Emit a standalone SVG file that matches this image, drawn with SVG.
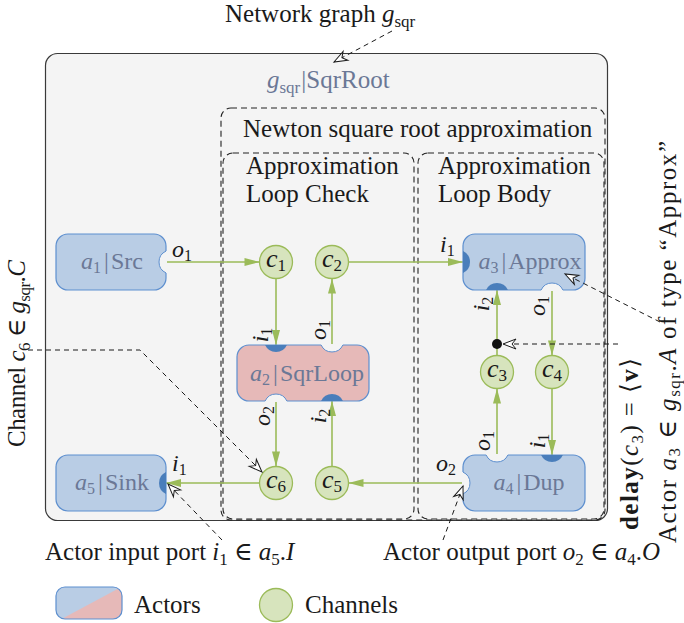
<svg xmlns="http://www.w3.org/2000/svg" width="684" height="623" viewBox="0 0 684 623">
  <defs>
    <style>
      text { font-family: "Liberation Serif", "DejaVu Serif", serif; fill: #1a1a1a; }
      .big { font-size: 25px; }
      .it { font-style: italic; }
      .bf { font-weight: bold; }
      .title { font-size: 25px; fill: #6b7896; }
      .node-label { font-size: 24px; fill: #6b7896; }
      .port-label { font-size: 24px; }
      .chan-label { font-size: 26px; }
      .graph-box { fill: #f4f4f4; stroke: #3a3a3a; stroke-width: 1.2; }
      .region { fill: none; stroke: #222; stroke-width: 1.1; stroke-dasharray: 6 4; }
      .actor { fill: #b9cde5; stroke: #5d8fcf; stroke-width: 1.2; }
      .actor.loop { fill: #e6b9b8; }
      .channel { fill: #d7e4bd; stroke: #9bbb59; stroke-width: 1.3; }
      .in-port { fill: #4a7ebb; }
      .out-port-fill { fill: #f4f4f4; }
      .out-port { fill: none; stroke: #5d8fcf; stroke-width: 1; }
      .edge { fill: none; stroke: #9bbb59; stroke-width: 1.6; marker-end: url(#arrowGreen); }
      .anno { fill: none; stroke: #1a1a1a; stroke-width: 1; stroke-dasharray: 5 4; }
      .anno-arrow { marker-end: url(#arrowOpen); }
    </style>
    <marker id="arrowGreen" markerUnits="userSpaceOnUse" markerWidth="16" markerHeight="10" refX="15" refY="5" orient="auto" overflow="visible">
      <path d="M0,1 L15,5 L0,9 Z" fill="#9bbb59"/>
    </marker>
    <marker id="arrowOpen" markerUnits="userSpaceOnUse" markerWidth="16" markerHeight="12" refX="14" refY="6" orient="auto" overflow="visible">
      <path d="M1,1 L14,6 L1,11 L5,6 Z" fill="#fff" stroke="#1a1a1a" stroke-width="1"/>
    </marker>
    <clipPath id="legendActorClip">
      <rect x="56" y="587" width="66" height="32" rx="9"/>
    </clipPath>
  </defs>

  <!-- network graph and its nested regions -->
  <g id="graph-sqrroot">
    <rect class="graph-box" x="45.5" y="53.5" width="562" height="467" rx="12"/>
    <text class="title" x="267" y="88"><tspan class="it">g</tspan><tspan font-size="17" dy="5">sqr</tspan><tspan dy="-5" dx="1">|SqrRoot</tspan></text>
  </g>
  <g id="region-newton">
    <rect class="region" x="221" y="108" width="384" height="412" rx="10"/>
    <text class="big" x="243" y="137">Newton square root approximation</text>
  </g>
  <g id="region-loop-check">
    <rect class="region" x="223" y="153" width="191" height="366" rx="10"/>
    <text class="big" x="246" y="174">Approximation</text>
    <text class="big" x="246" y="202">Loop Check</text>
  </g>
  <g id="region-loop-body">
    <rect class="region" x="418" y="153" width="186" height="366" rx="10"/>
    <text class="big" x="438" y="174">Approximation</text>
    <text class="big" x="438" y="202">Loop Body</text>
  </g>

  <!-- connectors -->
  <g id="connectors">
    <path class="edge" d="M166,262 L259.5,262"/>
    <path class="edge" d="M276,278.5 L276,345"/>
    <path class="edge" d="M332,345 L332,278.5"/>
    <path class="edge" d="M348.5,262 L463,262"/>
    <path class="edge" d="M552,290 L552,355.5"/>
    <path class="edge" d="M497,355.5 L497,290"/>
    <path class="edge" d="M552,388.5 L552,455"/>
    <path class="edge" d="M497,455 L497,388.5"/>
    <path class="edge" d="M463,483 L348.5,483"/>
    <path class="edge" d="M332,466.5 L332,401"/>
    <path class="edge" d="M276,401 L276,466.5"/>
    <path class="edge" d="M259.5,483 L166,483"/>
  </g>

  <!-- actors -->
  <g id="a1">
    <rect class="actor" x="56" y="234" width="110" height="56" rx="12"/>
    <path class="out-port-fill" d="M166,251.1 A12,12 0 0 0 166,272.9 L167,272.9 L167,251.1 Z"/>
    <path class="out-port" d="M166,251.1 A12,12 0 0 0 166,272.9"/>
    <text class="node-label" x="112" y="269" text-anchor="middle"><tspan class="it">a</tspan><tspan font-size="16" dy="4">1</tspan><tspan dy="-4" dx="3">|</tspan><tspan dx="2">Src</tspan></text>
  </g>
  <g id="a2">
    <rect class="actor loop" x="237" y="345" width="132" height="56" rx="12"/>
    <path class="in-port" d="M265.1,345 A12,12 0 0 0 286.9,345 Z"/>
    <path class="out-port-fill" d="M321.1,345 A12,12 0 0 0 342.9,345 L342.9,344 L321.1,344 Z"/>
    <path class="out-port" d="M321.1,345 A12,12 0 0 0 342.9,345"/>
    <path class="out-port-fill" d="M265.1,401 A12,12 0 0 1 286.9,401 L286.9,402 L265.1,402 Z"/>
    <path class="out-port" d="M265.1,401 A12,12 0 0 1 286.9,401"/>
    <path class="in-port" d="M321.1,401 A12,12 0 0 1 342.9,401 Z"/>
    <text class="node-label" x="307" y="381" text-anchor="middle"><tspan class="it">a</tspan><tspan font-size="16" dy="4">2</tspan><tspan dy="-4" dx="3">|</tspan><tspan dx="2">SqrLoop</tspan></text>
  </g>
  <g id="a3">
    <rect class="actor" x="463" y="234" width="122" height="56" rx="12"/>
    <path class="in-port" d="M463,251.1 A12,12 0 0 1 463,272.9 Z"/>
    <path class="in-port" d="M486.1,290 A12,12 0 0 1 507.9,290 Z"/>
    <path class="out-port-fill" d="M541.1,290 A12,12 0 0 1 562.9,290 L562.9,291 L541.1,291 Z"/>
    <path class="out-port" d="M541.1,290 A12,12 0 0 1 562.9,290"/>
    <text class="node-label" x="530" y="269" text-anchor="middle"><tspan class="it">a</tspan><tspan font-size="16" dy="4">3</tspan><tspan dy="-4" dx="3">|</tspan><tspan dx="2">Approx</tspan></text>
  </g>
  <g id="a4">
    <rect class="actor" x="463" y="455" width="122" height="56" rx="12"/>
    <path class="out-port-fill" d="M486.1,455 A12,12 0 0 0 507.9,455 L507.9,454 L486.1,454 Z"/>
    <path class="out-port" d="M486.1,455 A12,12 0 0 0 507.9,455"/>
    <path class="in-port" d="M541.1,455 A12,12 0 0 0 562.9,455 Z"/>
    <path class="out-port-fill" d="M463,472.1 A12,12 0 0 1 463,493.9 L462,493.9 L462,472.1 Z"/>
    <path class="out-port" d="M463,472.1 A12,12 0 0 1 463,493.9"/>
    <text class="node-label" x="529" y="490" text-anchor="middle"><tspan class="it">a</tspan><tspan font-size="16" dy="4">4</tspan><tspan dy="-4" dx="3">|</tspan><tspan dx="2">Dup</tspan></text>
  </g>
  <g id="a5">
    <rect class="actor" x="56" y="455" width="110" height="56" rx="12"/>
    <path class="in-port" d="M166,472.1 A12,12 0 0 0 166,493.9 Z"/>
    <text class="node-label" x="112" y="490" text-anchor="middle"><tspan class="it">a</tspan><tspan font-size="16" dy="4">5</tspan><tspan dy="-4" dx="3">|</tspan><tspan dx="2">Sink</tspan></text>
  </g>

  <!-- channels -->
  <g id="c1"><circle class="channel" cx="276" cy="262" r="16.5"/><text class="chan-label" x="276" y="267" text-anchor="middle"><tspan class="it">c</tspan><tspan font-size="17" dy="4">1</tspan></text></g>
  <g id="c2"><circle class="channel" cx="332" cy="262" r="16.5"/><text class="chan-label" x="332" y="267" text-anchor="middle"><tspan class="it">c</tspan><tspan font-size="17" dy="4">2</tspan></text></g>
  <g id="c3"><circle class="channel" cx="497" cy="372" r="16.5"/><text class="chan-label" x="497" y="377" text-anchor="middle"><tspan class="it">c</tspan><tspan font-size="17" dy="4">3</tspan></text></g>
  <g id="c4"><circle class="channel" cx="552" cy="372" r="16.5"/><text class="chan-label" x="552" y="377" text-anchor="middle"><tspan class="it">c</tspan><tspan font-size="17" dy="4">4</tspan></text></g>
  <g id="c5"><circle class="channel" cx="332" cy="483" r="16.5"/><text class="chan-label" x="332" y="488" text-anchor="middle"><tspan class="it">c</tspan><tspan font-size="17" dy="4">5</tspan></text></g>
  <g id="c6"><circle class="channel" cx="276" cy="483" r="16.5"/><text class="chan-label" x="276" y="488" text-anchor="middle"><tspan class="it">c</tspan><tspan font-size="17" dy="4">6</tspan></text></g>

  <!-- port labels -->
  <g id="port-labels" class="port-label">
    <text x="172" y="257"><tspan class="it">o</tspan><tspan font-size="16" dy="4">1</tspan></text>
    <text x="172" y="471"><tspan class="it">i</tspan><tspan font-size="16" dy="4">1</tspan></text>
    <text x="440" y="252"><tspan class="it">i</tspan><tspan font-size="16" dy="4">1</tspan></text>
    <text x="436" y="471"><tspan class="it">o</tspan><tspan font-size="16" dy="4">2</tspan></text>
    <text transform="translate(268,335) rotate(-90)" text-anchor="middle"><tspan class="it">i</tspan><tspan font-size="16" dy="4">1</tspan></text>
    <text transform="translate(326,330) rotate(-90)" text-anchor="middle"><tspan class="it">o</tspan><tspan font-size="16" dy="4">1</tspan></text>
    <text transform="translate(270,416) rotate(-90)" text-anchor="middle"><tspan class="it">o</tspan><tspan font-size="16" dy="4">2</tspan></text>
    <text transform="translate(326,416) rotate(-90)" text-anchor="middle"><tspan class="it">i</tspan><tspan font-size="16" dy="4">2</tspan></text>
    <text transform="translate(489,304) rotate(-90)" text-anchor="middle"><tspan class="it">i</tspan><tspan font-size="16" dy="4">2</tspan></text>
    <text transform="translate(545,306) rotate(-90)" text-anchor="middle"><tspan class="it">o</tspan><tspan font-size="16" dy="4">1</tspan></text>
    <text transform="translate(490,441) rotate(-90)" text-anchor="middle"><tspan class="it">o</tspan><tspan font-size="16" dy="4">1</tspan></text>
    <text transform="translate(545,441) rotate(-90)" text-anchor="middle"><tspan class="it">i</tspan><tspan font-size="16" dy="4">1</tspan></text>
  </g>

  <!-- annotations -->
  <g id="annotations">
    <path class="anno anno-arrow" d="M392,31 L334,62"/>
    <path class="anno anno-arrow" d="M28,350 L140,350 L262,472"/>
    <path class="anno anno-arrow" d="M222,540 L168,484"/>
    <path class="anno anno-arrow" d="M443,540 L463,486"/>
    <path class="anno anno-arrow" d="M618,344 L503,344"/>
    <path class="anno anno-arrow" d="M660,322 L565,274"/>
    <circle cx="497" cy="344" r="5" fill="#111"/>

    <text class="big" x="225" y="22">Network graph <tspan class="it">g</tspan><tspan font-size="17" dy="5">sqr</tspan></text>
    <text class="big" transform="translate(25,447) rotate(-90)" textLength="187" lengthAdjust="spacing">Channel <tspan class="it">c</tspan><tspan font-size="17" dy="5">6</tspan><tspan dy="-5"> ∈ </tspan><tspan class="it">g</tspan><tspan font-size="17" dy="5">sqr</tspan><tspan dy="-5">.</tspan><tspan class="it">C</tspan></text>
    <text class="big" x="45" y="560">Actor input port <tspan class="it">i</tspan><tspan font-size="17" dy="5">1</tspan><tspan dy="-5"> ∈ </tspan><tspan class="it">a</tspan><tspan font-size="17" dy="5">5</tspan><tspan dy="-5">.</tspan><tspan class="it">I</tspan></text>
    <text class="big" x="383" y="560">Actor output port <tspan class="it">o</tspan><tspan font-size="17" dy="5">2</tspan><tspan dy="-5"> ∈ </tspan><tspan class="it">a</tspan><tspan font-size="17" dy="5">4</tspan><tspan dy="-5">.</tspan><tspan class="it">O</tspan></text>
    <text class="big" transform="translate(638,530) rotate(-90)" textLength="172" lengthAdjust="spacing"><tspan class="bf">delay</tspan>(<tspan class="it">c</tspan><tspan font-size="17" dy="5">3</tspan><tspan dy="-5">) = ⟨</tspan><tspan class="bf">v</tspan>⟩</text>
    <text class="big" transform="translate(676,543) rotate(-90)" textLength="402" lengthAdjust="spacing">Actor <tspan class="it">a</tspan><tspan font-size="17" dy="4">3</tspan><tspan dy="-4"> ∈ </tspan><tspan class="it">g</tspan><tspan font-size="17" dy="4">sqr</tspan><tspan dy="-4">.</tspan><tspan class="it">A</tspan> of type “Approx”</text>
  </g>

  <!-- legend -->
  <g id="legend-actors">
    <g clip-path="url(#legendActorClip)">
      <rect x="56" y="587" width="66" height="32" fill="#b9cde5"/>
      <polygon points="56,622 125,585 125,622" fill="#e6b9b8"/>
    </g>
    <rect x="56" y="587" width="66" height="32" rx="9" fill="none" stroke="#5d8fcf" stroke-width="1.2"/>
    <text class="big" x="134" y="613">Actors</text>
  </g>
  <g id="legend-channels">
    <circle class="channel" cx="276" cy="605" r="16.5"/>
    <text class="big" x="305" y="613">Channels</text>
  </g>
</svg>
